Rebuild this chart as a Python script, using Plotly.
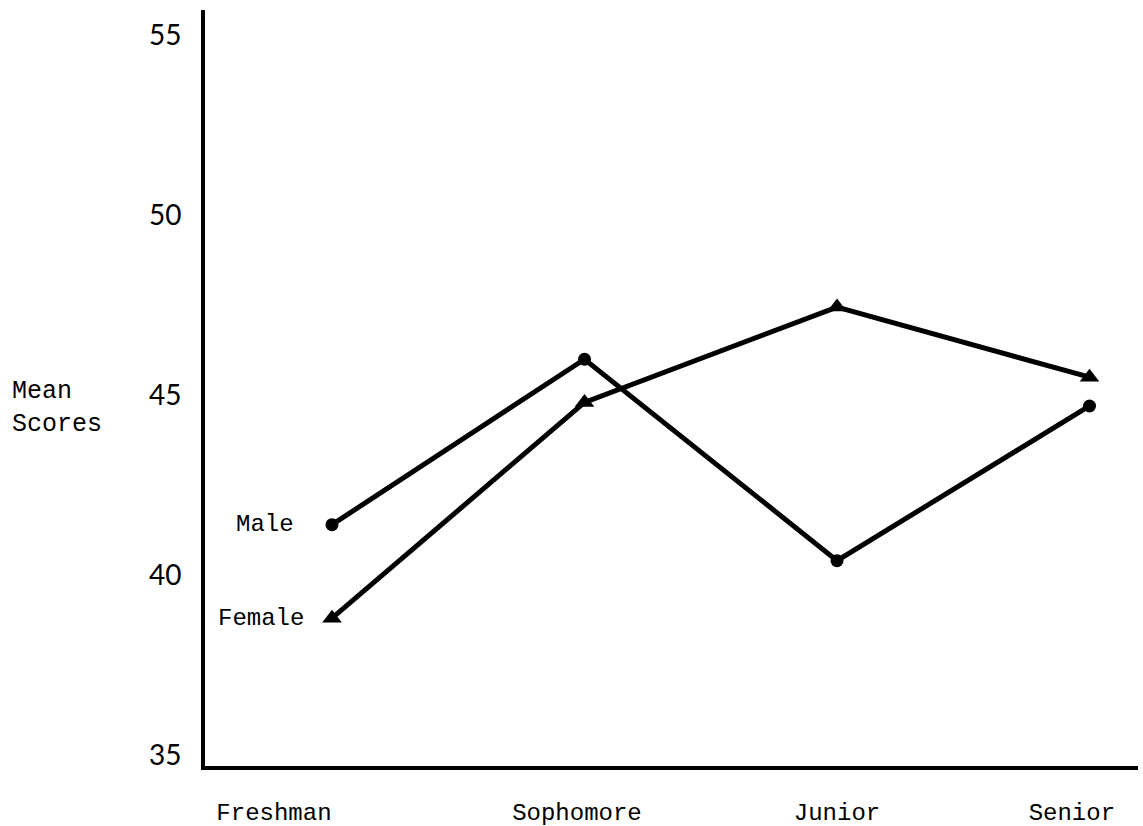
import plotly.graph_objects as go

# ---- data ----
categories = ["Freshman", "Sophomore", "Junior", "Senior"]
male_scores = [41.4, 46.0, 40.4, 44.7]
female_scores = [38.8, 44.8, 47.45, 45.5]
y_ticks = [35, 40, 45, 50, 55]
y_tick_labels = ["35", "40", "45", "50", "55"]

# layout-only: where the typed category labels sit relative to the points
label_offsets = [-0.23, -0.03, 0.0, -0.07]

x_idx = list(range(len(categories)))
label_pos = [i + o for i, o in zip(x_idx, label_offsets)]

mono = "Liberation Mono"
hand = "Lato"

fig = go.Figure()
fig.add_trace(go.Scatter(
    x=x_idx, y=male_scores, mode="lines+markers", name="Male",
    line=dict(color="black", width=5),
    marker=dict(symbol="circle", size=13, color="black"),
))
fig.add_trace(go.Scatter(
    x=x_idx, y=female_scores, mode="lines+markers", name="Female",
    line=dict(color="black", width=5),
    marker=dict(symbol="triangle-up", size=17, color="black"),
))

fig.add_annotation(x=x_idx[0], y=male_scores[0], xref="x", yref="y",
                   text="Male", showarrow=False, xanchor="right", xshift=-36,
                   font=dict(family=mono, size=24, color="black"))
fig.add_annotation(x=x_idx[0], y=female_scores[0], xref="x", yref="y",
                   text="Female", showarrow=False, xanchor="right", xshift=-26,
                   font=dict(family=mono, size=24, color="black"))
fig.add_annotation(x=-0.2092, y=0.474, xref="paper", yref="paper",
                   text="Mean<br>Scores", showarrow=False, xanchor="left",
                   yanchor="middle", align="left",
                   font=dict(family=mono, size=25, color="black"))

fig.update_layout(
    width=1143, height=826,
    margin=dict(l=205, r=5, t=10, b=60),
    paper_bgcolor="white", plot_bgcolor="white",
    showlegend=False,
    xaxis=dict(
        range=[-0.503, 3.192], showgrid=False, zeroline=False,
        showline=True, linewidth=4, linecolor="black", automargin=False,
        tickmode="array", tickvals=label_pos, ticktext=categories,
        ticks="outside", ticklen=21, tickcolor="rgba(0,0,0,0)",
        tickfont=dict(family=mono, size=24, color="black"),
    ),
    yaxis=dict(
        range=[34.69, 55.71], showgrid=False, zeroline=False,
        showline=True, linewidth=4, linecolor="black", automargin=False,
        tickmode="array", tickvals=y_ticks, ticktext=y_tick_labels,
        ticks="outside", ticklen=14, tickcolor="rgba(0,0,0,0)",
        tickfont=dict(family=hand, size=28, color="black"),
    ),
)

fig.write_html(
    "out.html",
    config={"displayModeBar": False},
    post_script="document.body.style.margin='0';document.body.style.overflow='hidden';",
)
